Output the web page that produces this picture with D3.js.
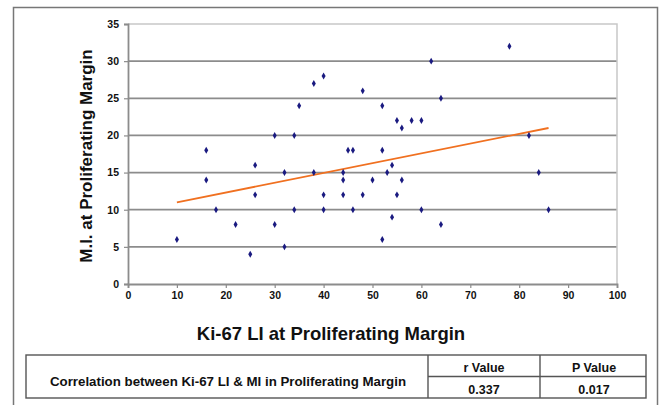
<!DOCTYPE html>
<html>
<head>
<meta charset="utf-8">
<script src="https://cdn.jsdelivr.net/npm/d3@7"></script>
<style>
  body { margin: 0; background: #fff; }
  text { font-family: Arial, "Liberation Sans", sans-serif; font-weight: bold; }
</style>
</head>
<body>
<svg id="chart" width="659" height="407"></svg>
<script>
// Ki-67 LI vs M.I. at proliferating margin
var kiValues = [10,16,16,18,22,25,26,26,30,30,32,32,34,34,35,38,38,40,40,40,44,44,44,45,46,46,48,48,50,52,52,52,53,54,54,55,55,56,56,58,60,60,62,64,64,78,82,84,86];
var miValues = [6,18,14,10,8,4,16,12,20,8,15,5,20,10,24,27,15,28,12,10,15,14,12,18,18,10,26,12,14,24,18,6,15,16,9,22,12,21,14,22,22,10,30,25,8,32,20,15,10];

var trendX = [10, 86];
var trendY = [11, 21];

var xTicks = [0,10,20,30,40,50,60,70,80,90,100];
var yTicks = [0,5,10,15,20,25,30,35];

var tableHead = ["r Value", "P Value"];
var tableVals = ["0.337", "0.017"];
var tableLabel = "Correlation between Ki-67 LI & MI in Proliferating Margin";

var svg = d3.select("#chart");

// outer frame (no bottom edge)
svg.append("path")
   .attr("d", "M13.5,405V7.5H657.5V405")
   .attr("fill", "none")
   .attr("stroke", "#777")
   .attr("stroke-width", 1.5);

var x = d3.scaleLinear().domain([0, 100]).range([128, 617]),
    y = d3.scaleLinear().domain([0, 35]).range([284, 24]);

// gridlines
svg.append("g").selectAll("line")
   .data(yTicks.filter(function(d){ return d > 0 && d < 35; }))
   .enter().append("line")
   .attr("x1", x(0)).attr("x2", x(100))
   .attr("y1", function(d){ return y(d); })
   .attr("y2", function(d){ return y(d); })
   .attr("stroke", "#8c8c8c")
   .attr("stroke-width", 1.8);

// plot area top & right border
svg.append("path")
   .attr("d", "M" + x(0) + "," + y(35) + "H" + x(100) + "V" + y(0))
   .attr("fill", "none")
   .attr("stroke", "#c8c8c8")
   .attr("stroke-width", 1.5);

// axes
var xAxis = svg.append("g")
   .attr("transform", "translate(0," + y(0) + ")")
   .call(d3.axisBottom(x).tickValues(xTicks).tickSize(4).tickPadding(4));
var yAxis = svg.append("g")
   .attr("transform", "translate(" + x(0) + ",0)")
   .call(d3.axisLeft(y).tickValues(yTicks).tickSize(4).tickPadding(5));

[xAxis, yAxis].forEach(function(g){
  g.select(".domain").attr("stroke", "#8c8c8c").attr("stroke-width", 1.8);
  g.selectAll(".tick line").attr("stroke", "#8c8c8c").attr("stroke-width", 1.2);
  g.selectAll(".tick text").attr("fill", "#111").style("font-size", "10.5px");
});

// trend line
svg.append("line")
   .attr("x1", x(trendX[0])).attr("y1", y(trendY[0]))
   .attr("x2", x(trendX[1])).attr("y2", y(trendY[1]))
   .attr("stroke", "#f07020")
   .attr("stroke-width", 1.8);

// points (small diamonds)
svg.append("g").selectAll("path")
   .data(kiValues.map(function(k, i){ return [k, miValues[i]]; }))
   .enter().append("path")
   .attr("d", d3.symbol().type(d3.symbolDiamond).size(14))
   .attr("transform", function(d){ return "translate(" + x(d[0]) + "," + y(d[1]) + ")"; })
   .attr("fill", "#1a1a80");

// axis titles
svg.append("text")
   .attr("transform", "translate(92,156) rotate(-90)")
   .attr("text-anchor", "middle")
   .style("font-size", "17px")
   .attr("fill", "#111")
   .text("M.I. at Proliferating Margin");

svg.append("text")
   .attr("x", 331).attr("y", 340)
   .attr("text-anchor", "middle")
   .style("font-size", "18.5px")
   .attr("fill", "#111")
   .text("Ki-67 LI at Proliferating Margin");

// table
var tbl = svg.append("g")
   .attr("fill", "none")
   .attr("stroke", "#555")
   .attr("stroke-width", 1.4);
tbl.append("rect").attr("x", 26).attr("y", 355).attr("width", 620).attr("height", 43);
tbl.append("line").attr("x1", 428).attr("x2", 428).attr("y1", 355).attr("y2", 398);
tbl.append("line").attr("x1", 540).attr("x2", 540).attr("y1", 355).attr("y2", 398);
tbl.append("line").attr("x1", 428).attr("x2", 646).attr("y1", 376.5).attr("y2", 376.5);

svg.append("text")
   .attr("x", 228).attr("y", 386)
   .attr("text-anchor", "middle")
   .style("font-size", "13.3px")
   .attr("fill", "#111")
   .text(tableLabel);

var colX = [484, 594];
svg.append("g").selectAll("text")
   .data(tableHead).enter().append("text")
   .attr("x", function(d, i){ return colX[i]; })
   .attr("y", 371.5)
   .attr("text-anchor", "middle")
   .style("font-size", "12.5px")
   .attr("fill", "#111")
   .text(function(d){ return d; });
svg.append("g").selectAll("text")
   .data(tableVals).enter().append("text")
   .attr("x", function(d, i){ return colX[i]; })
   .attr("y", 393.5)
   .attr("text-anchor", "middle")
   .style("font-size", "12.5px")
   .attr("fill", "#111")
   .text(function(d){ return d; });
</script>
</body>
</html>
